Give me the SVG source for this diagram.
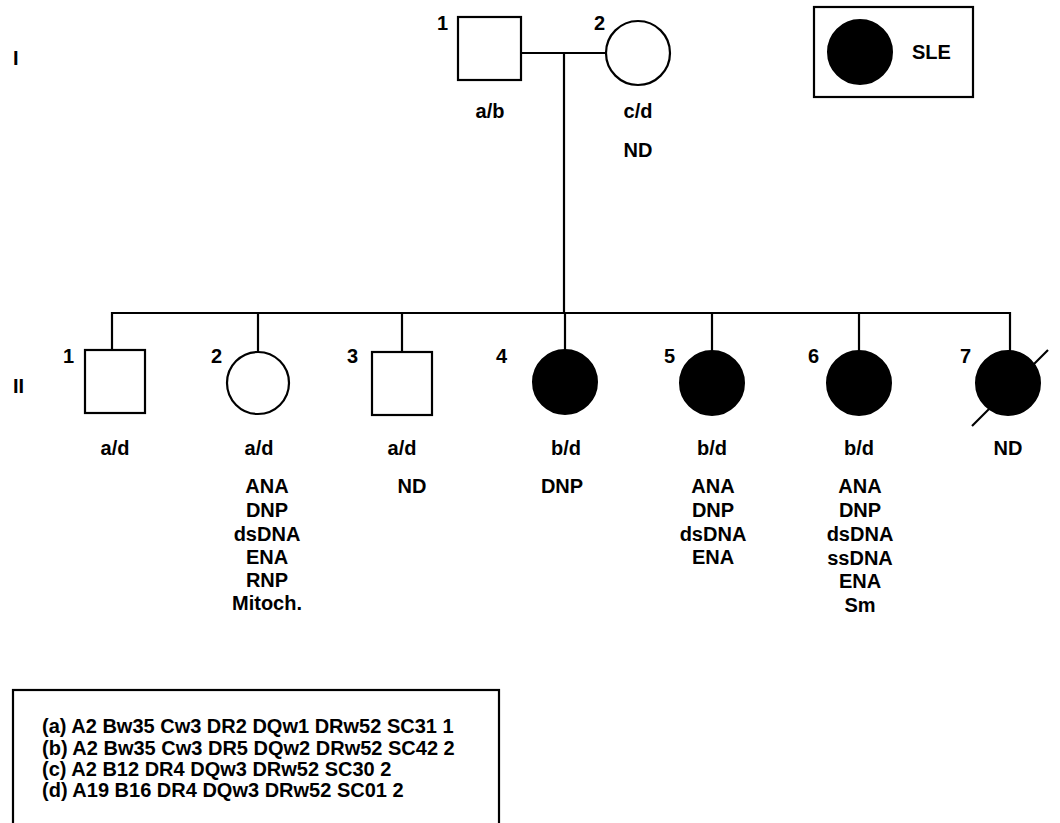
<svg xmlns="http://www.w3.org/2000/svg" width="1060" height="823" viewBox="0 0 1060 823">
<style>
.t{font-family:"Liberation Sans",Arial,Helvetica,sans-serif;font-size:20px;font-weight:bold;fill:#000}
.m{text-anchor:middle}
.o{fill:#fff;stroke:#000;stroke-width:2.2}
.f{fill:#000;stroke:#000;stroke-width:2}
.ln{stroke:#000;stroke-width:2.2;fill:none}
</style>
<rect width="1060" height="823" fill="#fff"/>
<text class="t" x="13" y="65">I</text>
<text class="t" x="13" y="393">II</text>
<g id="legend">
<rect x="814" y="7" width="159" height="90" class="o"/>
<circle cx="860" cy="52" r="32" class="f"/>
<text class="t" x="912" y="59">SLE</text>
</g>
<g id="connectors">
<line x1="521" y1="53" x2="606" y2="53" class="ln"/>
<line x1="564" y1="53" x2="564" y2="313" class="ln"/>
<line x1="565" y1="312" x2="565" y2="352" class="ln"/>
<line x1="111" y1="313" x2="1010" y2="313" class="ln"/>
<line x1="112" y1="312" x2="112" y2="350" class="ln"/>
<line x1="258" y1="312" x2="258" y2="352" class="ln"/>
<line x1="402" y1="312" x2="402" y2="352" class="ln"/>
<line x1="712" y1="312" x2="712" y2="351" class="ln"/>
<line x1="859" y1="312" x2="859" y2="351" class="ln"/>
<line x1="1010" y1="312" x2="1010" y2="351" class="ln"/>
</g>
<g id="I-1">
<rect x="458" y="17" width="63" height="63" class="o"/>
<text class="t" x="437" y="30">1</text>
<text class="t m" x="490" y="118">a/b</text>
</g>
<g id="I-2">
<circle cx="638" cy="53" r="32" class="o"/>
<text class="t" x="594" y="30">2</text>
<text class="t m" x="638" y="118">c/d</text>
<text class="t m" x="638" y="157">ND</text>
</g>
<g id="II-1">
<rect x="85" y="350" width="60" height="63" class="o"/>
<text class="t" x="63" y="363">1</text>
<text class="t m" x="115" y="455">a/d</text>
</g>
<g id="II-2">
<circle cx="258" cy="383" r="31" class="o"/>
<text class="t" x="211" y="363">2</text>
<text class="t m" x="259" y="455">a/d</text>
<text class="t m" x="267" y="493">ANA</text>
<text class="t m" x="267" y="517">DNP</text>
<text class="t m" x="267" y="541">dsDNA</text>
<text class="t m" x="267" y="564">ENA</text>
<text class="t m" x="267" y="587">RNP</text>
<text class="t m" x="267" y="610">Mitoch.</text>
</g>
<g id="II-3">
<rect x="372" y="352" width="60" height="63" class="o"/>
<text class="t" x="347" y="363">3</text>
<text class="t m" x="402" y="455">a/d</text>
<text class="t m" x="412" y="493">ND</text>
</g>
<g id="II-4">
<circle cx="565" cy="382" r="32" class="f"/>
<text class="t" x="496" y="363">4</text>
<text class="t m" x="566" y="455">b/d</text>
<text class="t m" x="562" y="493">DNP</text>
</g>
<g id="II-5">
<circle cx="712" cy="383" r="32" class="f"/>
<text class="t" x="664" y="363">5</text>
<text class="t m" x="712" y="455">b/d</text>
<text class="t m" x="713" y="493">ANA</text>
<text class="t m" x="713" y="517">DNP</text>
<text class="t m" x="713" y="541">dsDNA</text>
<text class="t m" x="713" y="564">ENA</text>
</g>
<g id="II-6">
<circle cx="859" cy="383" r="32" class="f"/>
<text class="t" x="808" y="363">6</text>
<text class="t m" x="859" y="455">b/d</text>
<text class="t m" x="860" y="493">ANA</text>
<text class="t m" x="860" y="517">DNP</text>
<text class="t m" x="860" y="541">dsDNA</text>
<text class="t m" x="860" y="565">ssDNA</text>
<text class="t m" x="860" y="588">ENA</text>
<text class="t m" x="860" y="612">Sm</text>
</g>
<g id="II-7">
<circle cx="1008" cy="383" r="32" class="f"/>
<line x1="972" y1="426" x2="1048" y2="350" class="ln"/>
<text class="t" x="960" y="363">7</text>
<text class="t m" x="1008" y="455">ND</text>
</g>
<g id="haplotypes">
<rect x="13" y="690" width="486" height="140" class="o"/>
<text class="t" x="42" y="733">(a) A2 Bw35 Cw3 DR2 DQw1 DRw52 SC31 1</text>
<text class="t" x="42" y="754.5">(b) A2 Bw35 Cw3 DR5 DQw2 DRw52 SC42 2</text>
<text class="t" x="42" y="776">(c) A2 B12 DR4 DQw3 DRw52 SC30 2</text>
<text class="t" x="42" y="797">(d) A19 B16 DR4 DQw3 DRw52 SC01 2</text>
</g>
</svg>
